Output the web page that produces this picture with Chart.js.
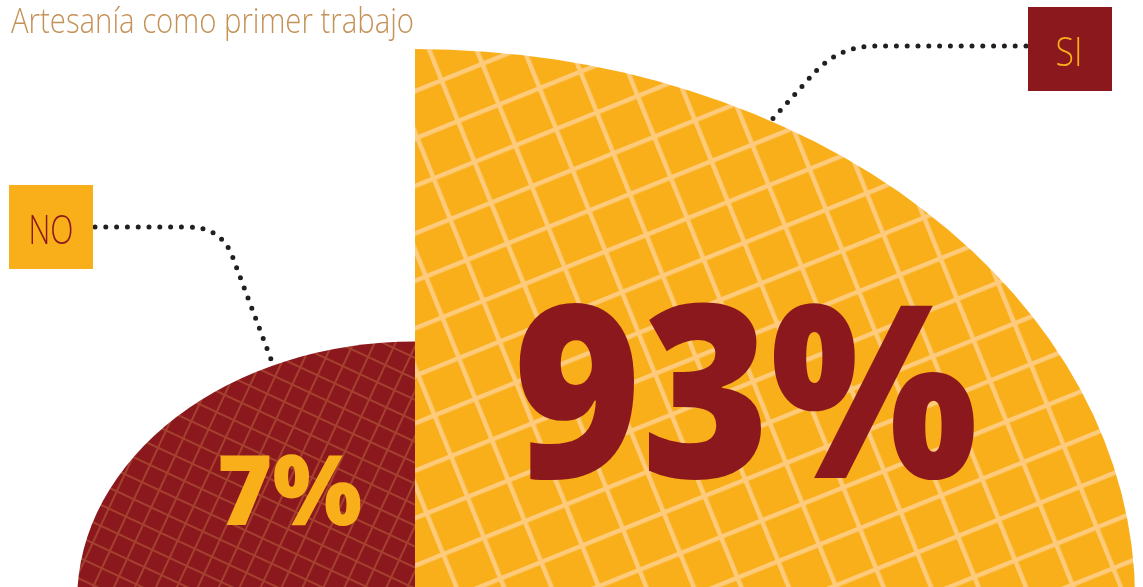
<!DOCTYPE html>
<html lang="es">
<head>
<meta charset="utf-8">
<title>Artesanía como primer trabajo</title>
<script src="https://cdn.jsdelivr.net/npm/chart.js@4.4.1/dist/chart.umd.min.js"></script>
<style>
  html, body { margin: 0; padding: 0; background: #fff; overflow: hidden; width: 1143px; height: 587px; }
  #wrap { position: absolute; }
</style>
</head>
<body>
<div id="wrap"><canvas id="chart"></canvas></div>
<script>
/* ---------- Data ---------- */
const categories = ['NO', 'SI'];
const shares = [7, 93];
const shareLabels = ['7%', '93%'];
const title = 'Artesanía como primer trabajo';

const RED = '#8A181D';
const YELLOW = '#F9AF1A';

/* ---------- Geometry of the (partly off-screen) polar chart ---------- */
const VW = 1143;
const CX = 415, CY = 600, R = 551;   // centre and outer radius on the page
const SX = 1.307;                    // the drawing is stretched sideways
const offX = R - CX;                 // canvas starts this far left of the page

const wrap = document.getElementById('wrap');
wrap.style.left = -offX + 'px';
wrap.style.top = '0px';
wrap.style.width = (VW + offX) + 'px';
wrap.style.height = (CY + R) + 'px';

/* ---------- Hatch patterns ---------- */
function hatch(bg, line, size, lw, angle) {
  const c = document.createElement('canvas');
  c.width = c.height = size;
  const g = c.getContext('2d');
  g.fillStyle = bg;
  g.fillRect(0, 0, size, size);
  g.fillStyle = line;
  g.fillRect(0, 0, size, lw);
  g.fillRect(0, 0, lw, size);
  const p = g.createPattern(c, 'repeat');
  // undo the sideways stretch so the cells stay square
  p.setTransform(new DOMMatrix().scaleSelf(1 / SX, 1).rotateSelf(angle));
  return p;
}
const fills = [
  hatch(RED, '#A5402F', 19, 2, 25),
  hatch(YELLOW, '#FDCB7B', 44, 4.5, -22)
];

/* ---------- Plugins ---------- */
const stretch = {
  id: 'stretch',
  beforeDatasetsDraw(chart) {
    const ctx = chart.ctx;
    const x = chart.scales.r.xCenter;
    ctx.save();
    ctx.translate(x, 0);
    ctx.scale(SX, 1);
    ctx.translate(-x, 0);
  },
  afterDatasetsDraw(chart) {
    chart.ctx.restore();
  }
};

function fitText(ctx, text, x, y, w, font, color, align) {
  ctx.save();
  ctx.font = font;
  ctx.fillStyle = color;
  ctx.textAlign = 'left';
  ctx.textBaseline = 'alphabetic';
  const k = w / ctx.measureText(text).width;
  ctx.translate(align === 'center' ? x - w / 2 : x, y);
  ctx.scale(k, 1);
  ctx.fillText(text, 0, 0);
  ctx.restore();
}

// point on an arc's outer edge, deg clockwise from the top
function edgePoint(arc, deg) {
  const a = deg * Math.PI / 180;
  return [arc.x - offX + SX * arc.outerRadius * Math.sin(a), arc.y - arc.outerRadius * Math.cos(a)];
}

function leader(ctx, pts, end) {
  ctx.save();
  ctx.strokeStyle = '#231F20';
  ctx.lineWidth = 5;
  ctx.lineCap = 'round';
  ctx.setLineDash([0, 10.8]);
  ctx.beginPath();
  ctx.moveTo(pts[0][0], pts[0][1]);
  ctx.lineTo(pts[1][0], pts[1][1]);
  ctx.quadraticCurveTo(pts[2][0], pts[2][1], pts[3][0], pts[3][1]);
  ctx.lineTo(end[0], end[1]);
  ctx.stroke();
  ctx.restore();
}

const notes = {
  id: 'notes',
  afterDraw(chart) {
    const ctx = chart.ctx;
    const arcs = chart.getDatasetMeta(0).data;
    ctx.save();
    ctx.translate(offX, 0);

    fitText(ctx, title, 11, 33, 403, "300 34px 'Open Sans'", '#C49257');

    // share figures
    fitText(ctx, shareLabels[1], 513, 478, 465, "800 242px 'Open Sans'", RED);
    fitText(ctx, shareLabels[0], 217, 525, 145, "800 98px 'Open Sans'", YELLOW);

    // leaders
    leader(ctx, [[1026, 46], [875, 46], [840, 46], [815, 72]], edgePoint(arcs[1], 29.6));
    leader(ctx, [[95, 227], [188, 227], [222, 227], [233, 258]], edgePoint(arcs[0], -24.8));

    // label boxes
    ctx.fillStyle = RED;
    ctx.fillRect(1028, 7, 84, 84);
    fitText(ctx, categories[1], 1069, 66, 27, "300 40px 'Open Sans'", YELLOW, 'center');
    ctx.fillStyle = YELLOW;
    ctx.fillRect(9, 185, 84, 84);
    fitText(ctx, categories[0], 51, 244, 45, "300 40px 'Open Sans'", RED, 'center');

    ctx.restore();
  }
};

/* ---------- Chart ---------- */
new Chart(document.getElementById('chart'), {
  type: 'polarArea',
  data: {
    labels: categories,
    datasets: [{
      data: shares,
      backgroundColor: fills,
      borderWidth: 0,
      angle: 90,
      clip: false
    }]
  },
  options: {
    responsive: true,
    maintainAspectRatio: false,
    animation: false,
    events: [],
    layout: { padding: { left: 0, top: CY - R, right: VW + offX - 2 * R, bottom: 0 } },
    plugins: { legend: { display: false }, tooltip: { enabled: false } },
    scales: { r: { display: false, min: -69, max: 93, startAngle: 270 } }
  },
  plugins: [stretch, notes]
});
</script>
</body>
</html>
